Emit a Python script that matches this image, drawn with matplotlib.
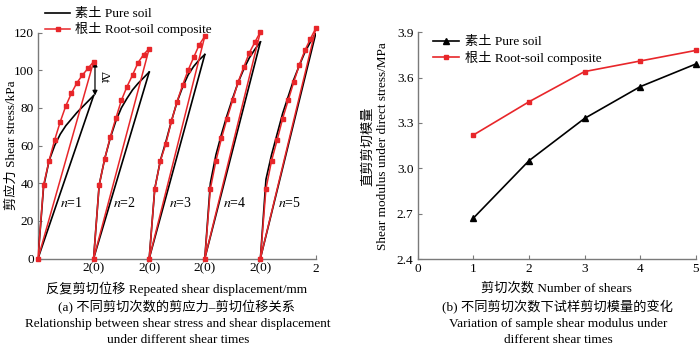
import numpy as np
import matplotlib
matplotlib.use("Agg")
import matplotlib.pyplot as plt

plt.rcParams['font.family'] = ['Liberation Serif', 'Noto Sans CJK SC']
plt.rcParams['mathtext.fontset'] = 'stix'
plt.rcParams['font.size'] = 9.5

RED = '#e8262a'
GREY = '#7a7a7a'

# (a) shear stress (kPa) against displacement inside each shear cycle (mm)
disp = [0.0, 0.2, 0.4, 0.6, 0.8, 1.0, 1.2, 1.4, 1.6, 1.8, 2.0]
pure_n1 = [0, 38, 52, 60, 66, 70.5, 74, 77.5, 80.5, 83.5, 86.5]
pure_n2 = [0, 39, 53, 64, 73, 80, 85, 89.5, 93, 96, 99]
pure_n3 = [0, 37, 52, 62, 73, 83, 91, 97.5, 102, 105.5, 108.3]
pure_n4 = [0, 40, 55, 66, 76, 85, 93.5, 100.5, 106.5, 111, 115]
pure_n5 = [0, 42, 55, 66, 77, 86, 95, 102.5, 109.5, 115, 120]
root_n1 = [0, 39, 52, 63, 72.6, 81, 87.7, 93.3, 97.4, 101, 104.5]
root_n2 = [0, 39, 53, 64.5, 74.5, 84, 91.2, 97.4, 104, 108.3, 111.5]
root_n3 = [0, 37, 51.8, 61, 72.9, 83.2, 92, 100, 106.8, 113.5, 118]
root_n4 = [0, 37, 51.8, 63.8, 74.3, 84, 93.7, 101.6, 109.2, 114.8, 120.4]
root_n5 = [0, 37, 51.8, 62.8, 74.3, 84, 93.7, 102.8, 110.5, 116.7, 122.5]
cycle_labels = ['1', '2', '3', '4', '5']
pure_curves = [pure_n1, pure_n2, pure_n3, pure_n4, pure_n5]
root_curves = [root_n1, root_n2, root_n3, root_n4, root_n5]
xtick_labels = ['2(0)', '2(0)', '2(0)', '2(0)', '2']

# (b) shear modulus (MPa) against number of shears
shear_no = [1, 2, 3, 4, 5]
pure_modulus = [2.67, 3.05, 3.33, 3.54, 3.69]
root_modulus = [3.22, 3.44, 3.64, 3.71, 3.78]

fig = plt.figure(figsize=(7.0, 3.49), dpi=100)
W, H = 700, 349


def px_axes(l, t, r, b):
    return fig.add_axes([l / W, 1 - b / H, (r - l) / W, (b - t) / H])


def style(ax):
    for s in ('top', 'right'):
        ax.spines[s].set_visible(False)
    for s in ('left', 'bottom'):
        ax.spines[s].set_color(GREY)
        ax.spines[s].set_linewidth(1.0)
    ax.tick_params(direction='in', length=3, width=0.8, color=GREY,
                   labelsize=9.5, pad=3)


# ---- panel (a)
ax = px_axes(38, 32.5, 316, 258.5)
style(ax)
span = disp[-1]
label_dx = [0.8, 0.7, 0.7, 0.65, 0.65]
for k, (pc, rc) in enumerate(zip(pure_curves, root_curves)):
    x = np.array(disp) + k * span
    ax.plot(x, pc, color='black', lw=1.2, zorder=3,
            label='素土 Pure soil' if k == 0 else None)
    ax.plot([x[-1], x[0]], [pc[-1], pc[0]], color='black', lw=1.2, zorder=3)
    ax.plot(x, rc, color=RED, lw=1.1, marker='s', ms=3.2, zorder=4,
            clip_on=False, label='根土 Root-soil composite' if k == 0 else None)
    ax.plot([x[-1], x[0]], [rc[-1], rc[0]], color=RED, lw=1.1, zorder=4,
            clip_on=False)
    ax.text(k * span + label_dx[k], 29.5, r'$n$=' + cycle_labels[k],
            fontsize=10, ha='left', va='center')

ax.set_xlim(0, 5 * span)
ax.set_ylim(0, 120)
ax.set_yticks([0, 20, 40, 60, 80, 100, 120])
ax.set_xticks([span * (i + 1) for i in range(5)])
ax.set_xticklabels(xtick_labels)

# delta t between the first peaks
ax.annotate('', xy=(span + 0.05, root_n1[-1]), xytext=(span + 0.05, pure_n1[-1]),
            arrowprops=dict(arrowstyle='<|-|>', color='black', lw=0.9,
                            mutation_scale=7, shrinkA=0, shrinkB=0))
ax.text(span + 0.37, (root_n1[-1] + pure_n1[-1]) / 2 + 1, 'Δt', rotation=-90,
        ha='center', va='center', fontsize=9.5)

ax.set_ylabel('剪应力 Shear stress/kPa', fontsize=9.5)
ax.yaxis.set_label_coords(-0.072, 0.5)
ax.set_xlabel('反复剪切位移 Repeated shear displacement/mm', fontsize=9.5)
ax.xaxis.set_label_coords(0.5, -0.103)

fig.legend(*ax.get_legend_handles_labels(), loc='upper left',
           bbox_to_anchor=(45 / W, 1 - 8 / H), frameon=False, fontsize=9.5,
           handlelength=1.9, handletextpad=0.4, labelspacing=0.15,
           borderpad=0, borderaxespad=0)

# ---- panel (b)
bx = px_axes(417.7, 32.3, 695.7, 259)
style(bx)
bx.plot(shear_no, pure_modulus, color='black', lw=1.2, marker='^', ms=5,
        label='素土 Pure soil', clip_on=False, zorder=3)
bx.plot(shear_no, root_modulus, color=RED, lw=1.2, marker='s', ms=3.2,
        label='根土 Root-soil composite', clip_on=False, zorder=3)
bx.set_xlim(0, 5)
bx.set_ylim(2.4, 3.9)
bx.set_xticks([0, 1, 2, 3, 4, 5])
bx.set_yticks([2.4, 2.7, 3.0, 3.3, 3.6, 3.9])
bx.yaxis.set_major_formatter(matplotlib.ticker.FormatStrFormatter('%.1f'))
bx.legend(loc='upper left', bbox_to_anchor=(0.05, 0.99), frameon=False,
          fontsize=9.5, handlelength=2.0, handletextpad=0.4,
          labelspacing=0.2, borderpad=0.1, borderaxespad=0)
bx.set_xlabel('剪切次数 Number of shears', fontsize=9.5)
bx.xaxis.set_label_coords(0.5, -0.103)
fig.text(368 / W, 1 - 146 / H, '直剪剪切模量', rotation=90, ha='center',
         va='center', fontsize=9.5)
fig.text(383 / W, 1 - 146 / H, 'Shear modulus under direct stress/MPa',
         rotation=90, ha='center', va='center', fontsize=9.5)

# captions
fig.text(176 / W, 1 - 307 / H, '(a) 不同剪切次数的剪应力–剪切位移关系',
         ha='center', va='center', fontsize=9.5)
fig.text(178 / W, 1 - 324 / H,
         'Relationship between shear stress and shear displacement',
         ha='center', va='center', fontsize=9.5)
fig.text(178 / W, 1 - 340 / H, 'under different shear times',
         ha='center', va='center', fontsize=9.5)
fig.text(557 / W, 1 - 307 / H, '(b) 不同剪切次数下试样剪切模量的变化',
         ha='center', va='center', fontsize=9.5)
fig.text(558 / W, 1 - 324 / H, 'Variation of sample shear modulus under',
         ha='center', va='center', fontsize=9.5)
fig.text(558 / W, 1 - 340 / H, 'different shear times',
         ha='center', va='center', fontsize=9.5)

fig.savefig('out.png', dpi=100)
